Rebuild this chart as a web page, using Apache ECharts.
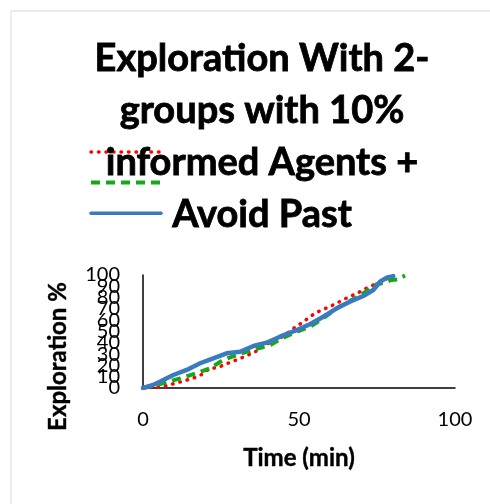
<!DOCTYPE html>
<html>
<head>
<meta charset="utf-8">
<script src="https://cdn.jsdelivr.net/npm/echarts@6/dist/echarts.min.js"></script>
<style>
  html, body { margin: 0; padding: 0; background: #fff; }
  #chart { width: 490px; height: 504px; }
</style>
</head>
<body>
<div id="chart"></div>
<script>
// 数据
var seriesNames = ["Series1", "Series2", "Series3"];

var redTime = [0, 6.5, 9, 11.5, 14, 16.5, 18.9, 21.5, 23.8, 26, 28.4, 30.8, 33.2, 35.7, 37.8, 40.2, 43.5, 46.9, 49, 51.2, 53.3, 55.4, 57.8, 60.3, 62.6, 65.1, 67.4, 69.6, 71.9, 74.5, 77, 79.5];
var redValues = [0, 1.2, 3.2, 5, 7, 9.1, 12.1, 17.4, 18, 20.4, 23.3, 25.7, 28.6, 31.6, 35.1, 39.5, 43, 49.8, 54.3, 58.1, 62.6, 66.6, 69.6, 72.6, 75.8, 79.4, 82.3, 85.2, 88.8, 92, 95.6, 98];

var greenTime = [0, 5.4, 11.9, 17, 21.5, 25.7, 30, 35.1, 40.7, 45, 49.3, 53.5, 57.8, 62.1, 66.3, 70.6, 74.9, 77, 79.7, 81.5, 84];
var greenValues = [0, 3.5, 8.5, 13, 17.4, 24.8, 29.2, 33.6, 38, 44.5, 49.8, 54.2, 61.7, 70.5, 77, 83.8, 91.8, 93, 95.6, 96, 99.5];

var blueTime = [0, 3, 5.4, 9.7, 14, 18.3, 22.5, 26.8, 31.1, 35.4, 39.6, 43.9, 47, 49.3, 53.5, 57.8, 62.1, 66.3, 70.6, 73.8, 76, 78.1, 80.2];
var blueValues = [0, 2.5, 5.6, 11.5, 16, 21.9, 26.3, 30.7, 32.1, 37.2, 40.1, 45.4, 48.9, 51.3, 56.4, 63.1, 70.5, 76.4, 81.4, 86.7, 94, 97.6, 99];

var titleLines = ["Exploration With 2-", "groups with 10%", "informed Agents +", "Avoid Past"];

function pairs(xs, ys) {
  return xs.map(function (x, i) { return [x, ys[i]]; });
}

var font = "Lato";
var red = "#ff0000", green = "#17a817", blue = "#3a7bbf";
var redLine = { color: red, width: 3.5, type: [0.5, 7], cap: "round" };
var greenLine = { color: green, width: 4, type: [9, 6], cap: "butt" };
var blueLine = { color: blue, width: 4.5, cap: "round" };

var yLabel = { fontFamily: font, fontSize: 20, color: "#000", margin: 23 };

var chart = echarts.init(document.getElementById("chart"));
chart.setOption({
  animation: false,
  backgroundColor: "#fff",
  graphic: [{
    type: "rect",
    shape: { x: 11, y: 11, width: 520, height: 520 },
    style: { fill: "none", stroke: "#d9d9d9", lineWidth: 1 }
  }],
  title: {
    text: titleLines.join("\n"),
    left: 257,
    top: 28,
    textAlign: "center",
    textStyle: {
      fontFamily: font,
      fontSize: 38,
      fontWeight: "bold",
      color: "#000",
      lineHeight: 52,
      textBorderColor: "#000",
      textBorderWidth: 0.8
    }
  },
  legend: {
    orient: "vertical",
    left: 84,
    top: 140,
    itemWidth: 70,
    itemHeight: 14,
    itemGap: 18,
    itemStyle: { opacity: 0 },
    data: [
      { name: seriesNames[0], lineStyle: { width: 3.5 } },
      { name: seriesNames[1], lineStyle: { width: 4 } },
      { name: seriesNames[2], lineStyle: { width: 3.5 } }
    ],
    formatter: function () { return ""; },
    textStyle: { fontSize: 10 }
  },
  grid: {
    left: 143,
    right: 35,
    top: 275,
    bottom: 116
  },
  xAxis: {
    type: "value",
    min: 0,
    max: 100,
    interval: 50,
    name: "Time (min)",
    nameLocation: "middle",
    nameGap: 58,
    nameTextStyle: { fontFamily: font, fontSize: 24, fontWeight: "bold", color: "#000", textBorderColor: "#000", textBorderWidth: 0.4 },
    axisLine: { show: true, lineStyle: { color: "#000", width: 1.5 } },
    axisTick: { show: false },
    splitLine: { show: false },
    axisLabel: { fontFamily: font, fontSize: 20, color: "#000", margin: 22 }
  },
  // two stacked y axes so every tick label is kept even though they overlap
  yAxis: [
    {
      type: "value",
      min: 0,
      max: 100,
      interval: 10,
      name: "Exploration %",
      nameLocation: "middle",
      nameGap: 73,
      nameTextStyle: { fontFamily: font, fontSize: 24, fontWeight: "bold", color: "#000", textBorderColor: "#000", textBorderWidth: 0.4, padding: [0, 50, 0, 0] },
      axisLine: { show: true, lineStyle: { color: "#000", width: 1.5 } },
      axisTick: { show: false },
      splitLine: { show: false },
      axisLabel: Object.assign({
        showMinLabel: true,
        showMaxLabel: true,
        formatter: function (v) { return v % 20 === 0 ? String(v) : ""; }
      }, yLabel)
    },
    {
      type: "value",
      min: 0,
      max: 100,
      interval: 10,
      position: "left",
      offset: 0,
      axisLine: { show: false },
      axisTick: { show: false },
      splitLine: { show: false },
      axisLabel: Object.assign({
        formatter: function (v) { return v % 20 === 10 ? String(v) : ""; }
      }, yLabel)
    }
  ],
  series: [
    {
      name: seriesNames[0],
      type: "line",
      symbol: "none",
      data: pairs(redTime, redValues),
      lineStyle: redLine,
      itemStyle: { color: red }
    },
    {
      name: seriesNames[1],
      type: "line",
      symbol: "none",
      data: pairs(greenTime, greenValues),
      lineStyle: greenLine,
      itemStyle: { color: green }
    },
    {
      name: seriesNames[2],
      type: "line",
      symbol: "none",
      data: pairs(blueTime, blueValues),
      lineStyle: blueLine,
      itemStyle: { color: blue }
    }
  ]
});
</script>
</body>
</html>
